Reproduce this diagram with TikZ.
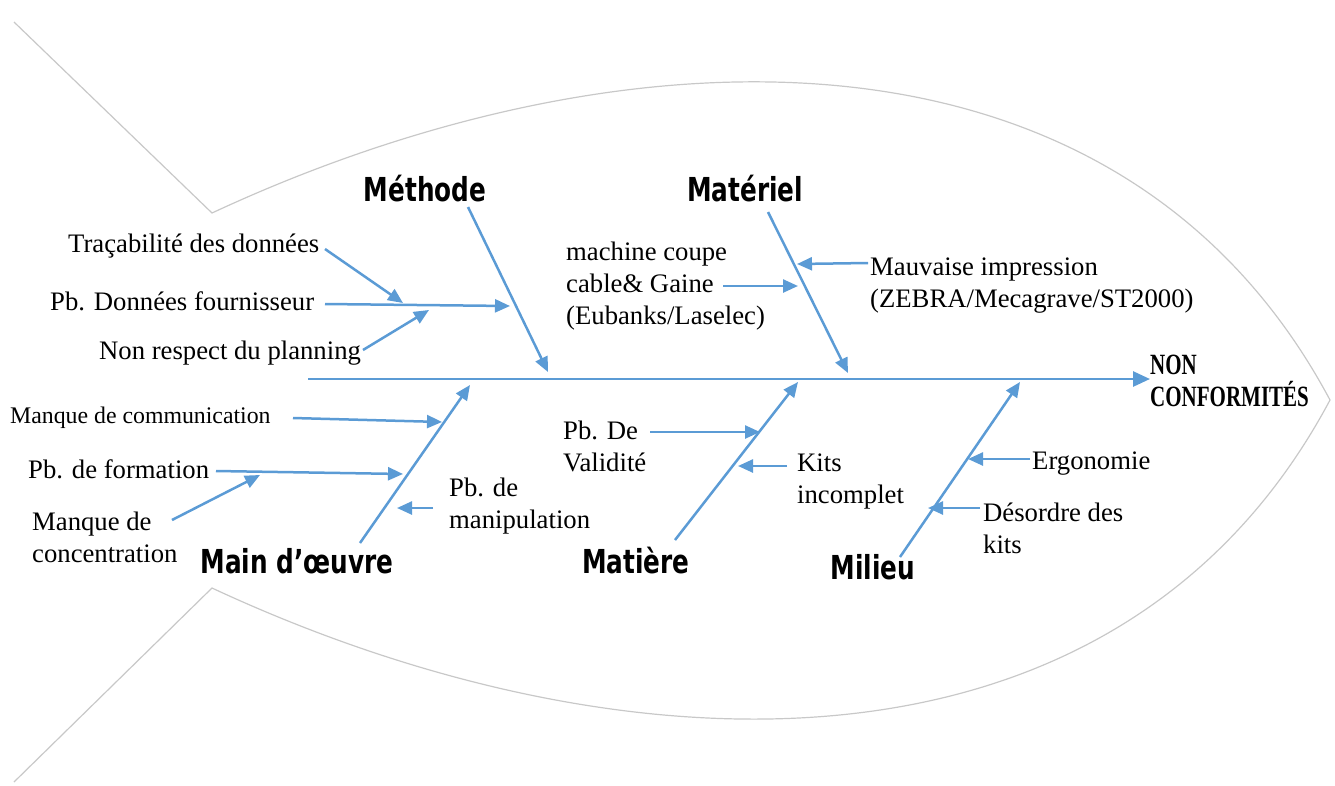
\documentclass[tikz,border=0pt]{standalone}
\usepackage{fontspec}
\setmainfont{Liberation Serif}
\newfontfamily\catfont{DejaVu Sans Condensed}
\usetikzlibrary{arrows.meta}
\definecolor{bone}{HTML}{5B9BD5}
\definecolor{fishline}{HTML}{C8C8C8}
\newcommand\catlabel[1]{\scalebox{1}[1.2]{\catfont\bfseries\fontsize{27.5}{30}\selectfont #1}}
\newcommand\effectline[1]{\scalebox{1}[1.4]{#1}}
\tikzset{
  bonearrow/.style={draw=bone, line width=2.5pt, -{Triangle[length=15pt,width=13pt]}},
  spinearrow/.style={draw=bone, line width=2.8pt, -{Triangle[length=17pt,width=15pt]}},
  cause/.style={inner sep=0pt, anchor=west, align=left, font=\fontsize{26.7}{32}\selectfont},
  smallcause/.style={cause, font=\fontsize{23.8}{29}\selectfont},
  category/.style={inner sep=0pt},
  effect/.style={inner sep=0pt, anchor=west, align=left,
    font=\bfseries\fontsize{21}{32}\selectfont},
}
\begin{document}
\begin{tikzpicture}[x=1pt,y=-1pt]
\useasboundingbox (0,0) rectangle (1335,785);

% fish outline
\draw[fishline, line width=1.2pt] (14,22) -- (212,213)
  .. controls (620,23) and (1118,3) .. (1330,400)
  .. controls (1118,798) and (620,778) .. (212,588) -- (14,782);

% effect and spine
\node[effect] (nc) at (1150,381) {\effectline{NON}\\\effectline{CONFORMITÉS}};
\coordinate (spineStart) at (308,379);
\coordinate (spineEnd) at (1150,379);
\draw[spinearrow] (spineStart) -- (spineEnd);

% categories
\node[category] (methode) at (425,189) {\catlabel{Méthode}};
\node[category] (materiel) at (745,189) {\catlabel{Matériel}};
\node[category] (maindoeuvre) at (297,561) {\catlabel{Main d’œuvre}};
\node[category] (matiere) at (636,561) {\catlabel{Matière}};
\node[category] (milieu) at (873,567) {\catlabel{Milieu}};

% main bones
\coordinate (mthTop) at (468,207);  \coordinate (mthTip) at (548,372);
\coordinate (matTop) at (768,212);  \coordinate (matTip) at (848,373);
\coordinate (moBot) at (360,543);   \coordinate (moTip) at (470,385);
\coordinate (mtrBot) at (675,540);  \coordinate (mtrTip) at (798,382);
\coordinate (milBot) at (900,557);  \coordinate (milTip) at (1020,382);
\draw[bonearrow] (mthTop) -- (mthTip);
\draw[bonearrow] (matTop) -- (matTip);
\draw[bonearrow] (moBot) -- (moTip);
\draw[bonearrow] (mtrBot) -- (mtrTip);
\draw[bonearrow] (milBot) -- (milTip);

% causes: Méthode
\node[cause] (trac) at (68,246) {Traçabilité des données};
\node[cause] (pbdon) at (50,301) {Pb. Données fournisseur};
\node[cause] (nonresp) at (99,353) {Non respect du planning};
\coordinate (tracA) at (325,249);    \coordinate (tracB) at (403,303);
\coordinate (pbdonA) at (325,304);   \coordinate (pbdonB) at (510,306);
\coordinate (nonrespA) at (363,350); \coordinate (nonrespB) at (429,310);
\draw[bonearrow] (tracA) -- (tracB);
\draw[bonearrow] (pbdonA) -- (pbdonB);
\draw[bonearrow] (nonrespA) -- (nonrespB);

% causes: Matériel
\node[cause] (machine) at (566,286) {machine coupe\\cable\& Gaine\\(Eubanks/Laselec)};
\node[cause] (mauvaise) at (870,286) {Mauvaise impression\\(ZEBRA/Mecagrave/ST2000)};
\coordinate (machineA) at (723,286);  \coordinate (machineB) at (798,286);
\coordinate (mauvaiseA) at (868,263); \coordinate (mauvaiseB) at (797,264);
\draw[bonearrow] (machineA) -- (machineB);
\draw[bonearrow] (mauvaiseA) -- (mauvaiseB);

% causes: Main d'œuvre
\node[smallcause] (manqcom) at (10,418) {Manque de communication};
\node[cause] (pbform) at (28,469) {Pb. de formation};
\node[cause] (manqconc) at (32,537) {Manque de\\concentration};
\node[cause] (pbmanip) at (449,506) {Pb. de\\manipulation};
\coordinate (manqcomA) at (293,418);  \coordinate (manqcomB) at (442,422);
\coordinate (pbformA) at (216,471);   \coordinate (pbformB) at (403,474);
\coordinate (manqconcA) at (172,520); \coordinate (manqconcB) at (260,475);
\coordinate (pbmanipA) at (433,508);  \coordinate (pbmanipB) at (397,508);
\draw[bonearrow] (manqcomA) -- (manqcomB);
\draw[bonearrow] (pbformA) -- (pbformB);
\draw[bonearrow] (manqconcA) -- (manqconcB);
\draw[bonearrow] (pbmanipA) -- (pbmanipB);

% causes: Matière
\node[cause] (pbval) at (563,446) {Pb. De\\Validité};
\node[cause] (kits) at (797,481) {Kits\\incomplet};
\coordinate (pbvalA) at (650,432); \coordinate (pbvalB) at (760,432);
\coordinate (kitsA) at (787,466);  \coordinate (kitsB) at (738,466);
\draw[bonearrow] (pbvalA) -- (pbvalB);
\draw[bonearrow] (kitsA) -- (kitsB);

% causes: Milieu
\node[cause] (ergo) at (1032,464) {Ergonomie};
\node[cause] (desordre) at (983,528) {Désordre des\\kits};
\coordinate (ergoA) at (1030,459);     \coordinate (ergoB) at (968,459);
\coordinate (desordreA) at (980,508);  \coordinate (desordreB) at (928,508);
\draw[bonearrow] (ergoA) -- (ergoB);
\draw[bonearrow] (desordreA) -- (desordreB);
\end{tikzpicture}
\end{document}
